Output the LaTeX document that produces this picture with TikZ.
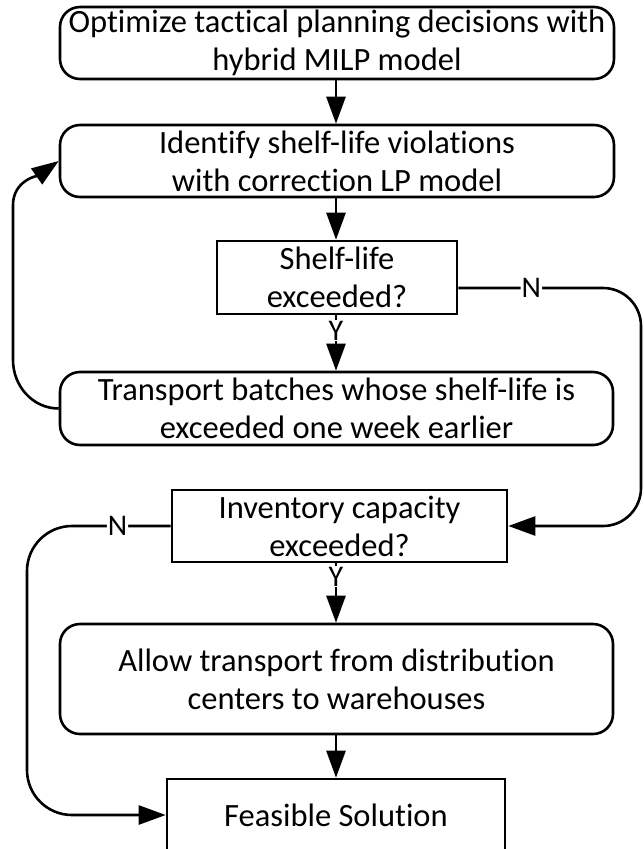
\documentclass[tikz,border=0pt]{standalone}
\usepackage{fontspec}
\setmainfont{Carlito}[Ligatures=NoCommon]
\usetikzlibrary{arrows.meta}
\tikzset{
	every node/.style={font=\fontsize{32.5}{38}\selectfont},
	procbox/.style={draw, line width=2.6pt, rounded corners=20pt, align=center, inner sep=0pt, minimum height=72pt},
	testbox/.style={draw, line width=2.6pt, align=center, inner sep=0pt, minimum height=72pt},
	flow/.style={line width=2.6pt, -{Triangle[length=27pt,width=19pt]}},
	answer/.style={fill=white, inner sep=1pt, font=\fontsize{30}{32}\selectfont}
}

\begin{document}
\begin{tikzpicture}[x=1pt, y=-1pt]
	\useasboundingbox (0,0) rectangle (644,849);
	\coordinate (spine) at (336,0);
	\coordinate (rrail) at (641,0);
	\coordinate (lrail) at (27,0);
	\coordinate (loopbot) at (13,360);
	\coordinate (looptop) at (13,205);

	\node[procbox, minimum width=554pt] (optimize) at (337,43) {Optimize tactical planning decisions with\\hybrid MILP model};
	\node[procbox, minimum width=554pt] (identify) at (337,161) {Identify shelf-life violations\\with correction LP model};
	\node[testbox, minimum width=240pt, minimum height=73pt] (shelf) at (337,277.5) {Shelf-life\\exceeded?};
	\node[procbox, minimum width=553pt, minimum height=73pt] (transport) at (336.5,408.5) {Transport batches whose shelf-life is\\exceeded one week earlier};
	\node[testbox, minimum width=335pt] (inventory) at (339.5,526) {Inventory capacity\\exceeded?};
	\node[procbox, minimum width=553pt, minimum height=110pt] (allow) at (336.5,679) {Allow transport from distribution\\centers to warehouses};
	\node[testbox, minimum width=338pt] (feasible) at (336,815) {Feasible Solution};

	\draw[flow] (optimize.south -| spine) -- (identify.north -| spine);
	\draw[flow] (identify.south -| spine) -- (shelf.north -| spine);
	\draw[flow] (shelf.south -| spine) -- node[answer, pos=0.28] {Y} (transport.north -| spine);
	\draw[flow] (transport.west) to[out=180, in=-90] (loopbot) -- (looptop) to[out=90, in=215] (identify.west);
	\draw[flow, rounded corners=38pt] ([yshift=-10.5pt]shelf.east) -- node[answer, pos=0.4] {N} ([yshift=-10.5pt]shelf.east -| rrail) -- (inventory.east -| rrail) -- (inventory.east);
	\draw[flow] (inventory.south -| spine) -- node[answer, pos=0.22] {Y} (allow.north -| spine);
	\draw[flow, rounded corners=45pt] (inventory.west) -- node[answer, pos=0.37] {N} (inventory.west -| lrail) -- (feasible.west -| lrail) -- (feasible.west);
	\draw[flow] (allow.south -| spine) -- (feasible.north -| spine);
\end{tikzpicture}
\end{document}
